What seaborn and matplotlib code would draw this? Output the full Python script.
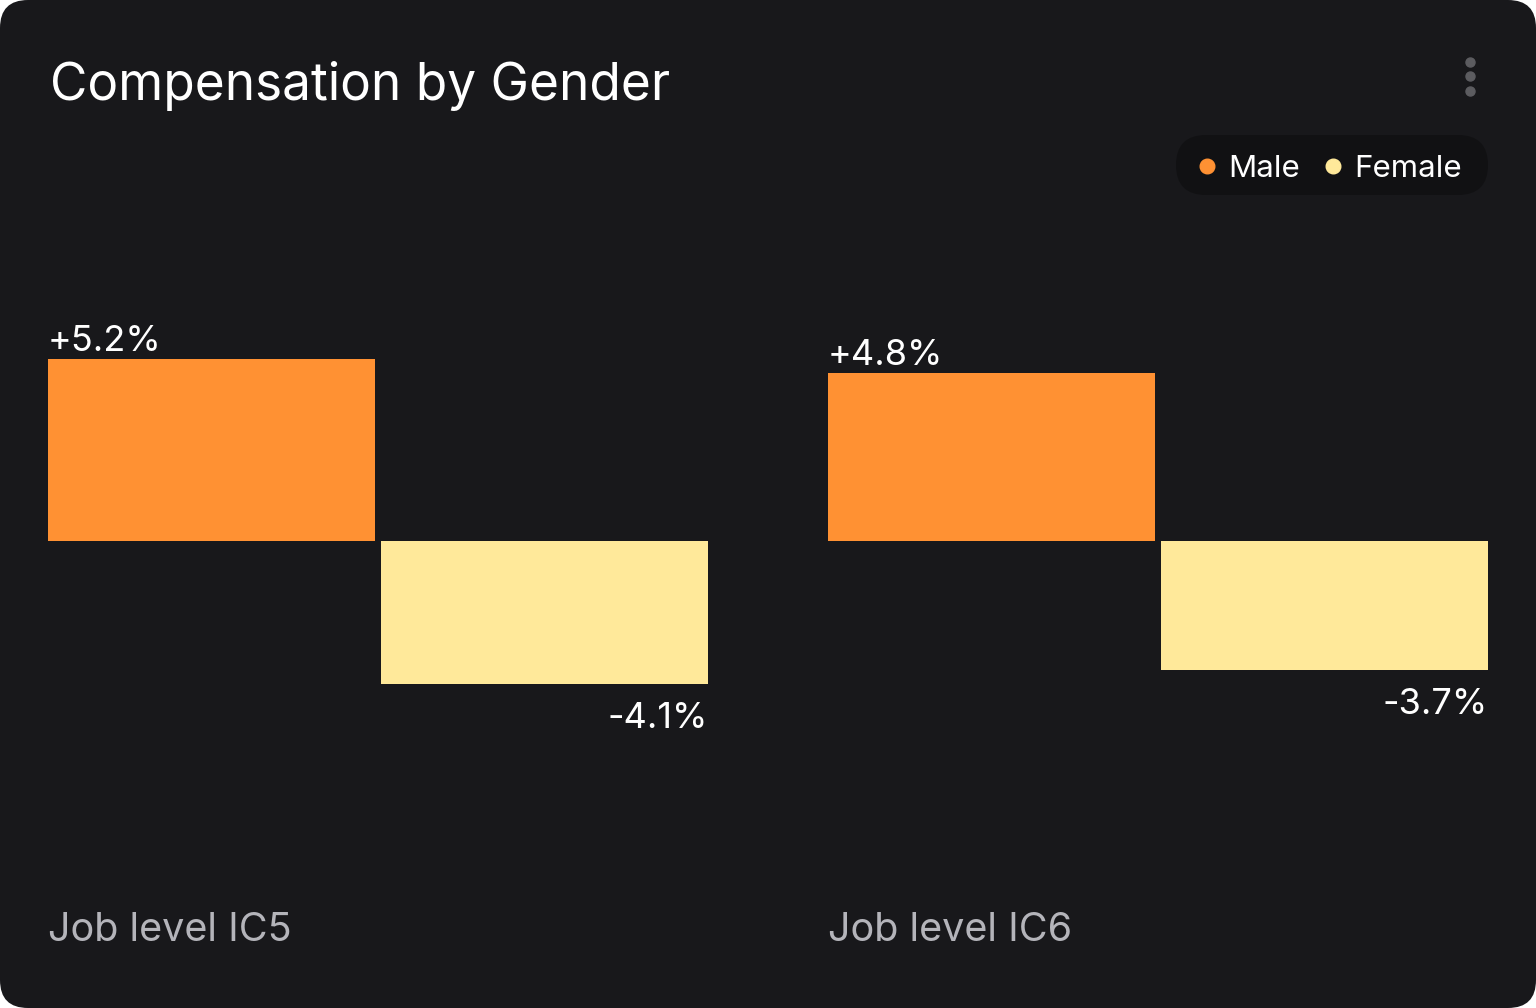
import matplotlib.pyplot as plt
import matplotlib.transforms as mtransforms
from matplotlib.patches import FancyBboxPatch
from matplotlib.lines import Line2D
import seaborn as sns

# data
job_levels = ["Job level IC5", "Job level IC6"]
genders = ["Male", "Female"]
male_gap = [5.2, 4.8]
female_gap = [-4.1, -3.7]

colors = {"Male": "#FF9133", "Female": "#FFE99A"}
bg = "#18181B"

sns.set_style("white")
plt.rcParams["font.family"] = ["Inter", "DejaVu Sans"]

W, H = 1536, 1008
fig = plt.figure(figsize=(W / 100, H / 100), dpi=100, facecolor="white")
px = mtransforms.IdentityTransform()

# card background with rounded corners
card = FancyBboxPatch((0, 0), W, H, boxstyle="round,pad=0,rounding_size=28",
                      transform=px, facecolor=bg, edgecolor="none", zorder=-10)
fig.patches.append(card)


def fx(x):
    return x / W


def fy(y):
    return 1 - y / H


fig.text(fx(50), fy(100), "Compensation by Gender", fontsize=37,
         color="white", va="baseline", ha="left")

# menu dots
for yy in [62, 76, 91]:
    fig.add_artist(Line2D([fx(1470)], [fy(yy)], marker="o", markersize=6.5,
                          color="#5C5C60", transform=fig.transFigure))

# legend pill
pill = FancyBboxPatch((1176, H - 195), 312, 60,
                      boxstyle="round,pad=0,rounding_size=30",
                      transform=px, facecolor="#111113", edgecolor="none",
                      zorder=-5)
fig.patches.append(pill)
for g, dx, tx in [("Male", 1207, 1228), ("Female", 1333, 1354)]:
    fig.add_artist(Line2D([fx(dx)], [fy(166)], marker="o", markersize=10.5,
                          color=colors[g], transform=fig.transFigure))
    fig.text(fx(tx), fy(177), g, fontsize=22.5, color="white",
             va="baseline", ha="left")

# two panels, one per job level
scale = 35.0  # px per percentage point
top_px, bot_px, base_px = 200, 860, 541
lefts = [48, 828]
width = 327 / 333
half = 163.5 / 333

for i, lvl in enumerate(job_levels):
    ax = fig.add_axes([fx(lefts[i]), fy(bot_px), 660 / W, (bot_px - top_px) / H])
    ax.set_facecolor("none")
    vals = [male_gap[i], female_gap[i]]
    sns.barplot(x=genders, y=vals, hue=genders, palette=colors,
                width=width, ax=ax, legend=False, saturation=1,
                edgecolor="none", linewidth=0)
    ax.set_xlim(-half, 1 + half)
    ax.set_ylim(-(bot_px - base_px) / scale, (base_px - top_px) / scale)
    ax.axis("off")

    ax.annotate(f"+{male_gap[i]:.1f}%", (-half, male_gap[i]),
                xytext=(0, 6), textcoords="offset points",
                ha="left", va="baseline", fontsize=26, color="white")
    ax.annotate(f"-{abs(female_gap[i]):.1f}%", (1 + half, female_gap[i]),
                xytext=(0, -31), textcoords="offset points",
                ha="right", va="baseline", fontsize=26, color="white")

    fig.text(fx(lefts[i]), fy(941), lvl, fontsize=28.5, color="#B4B4BA",
             ha="left", va="baseline")

fig.savefig("out.png", dpi=100, facecolor="white")
